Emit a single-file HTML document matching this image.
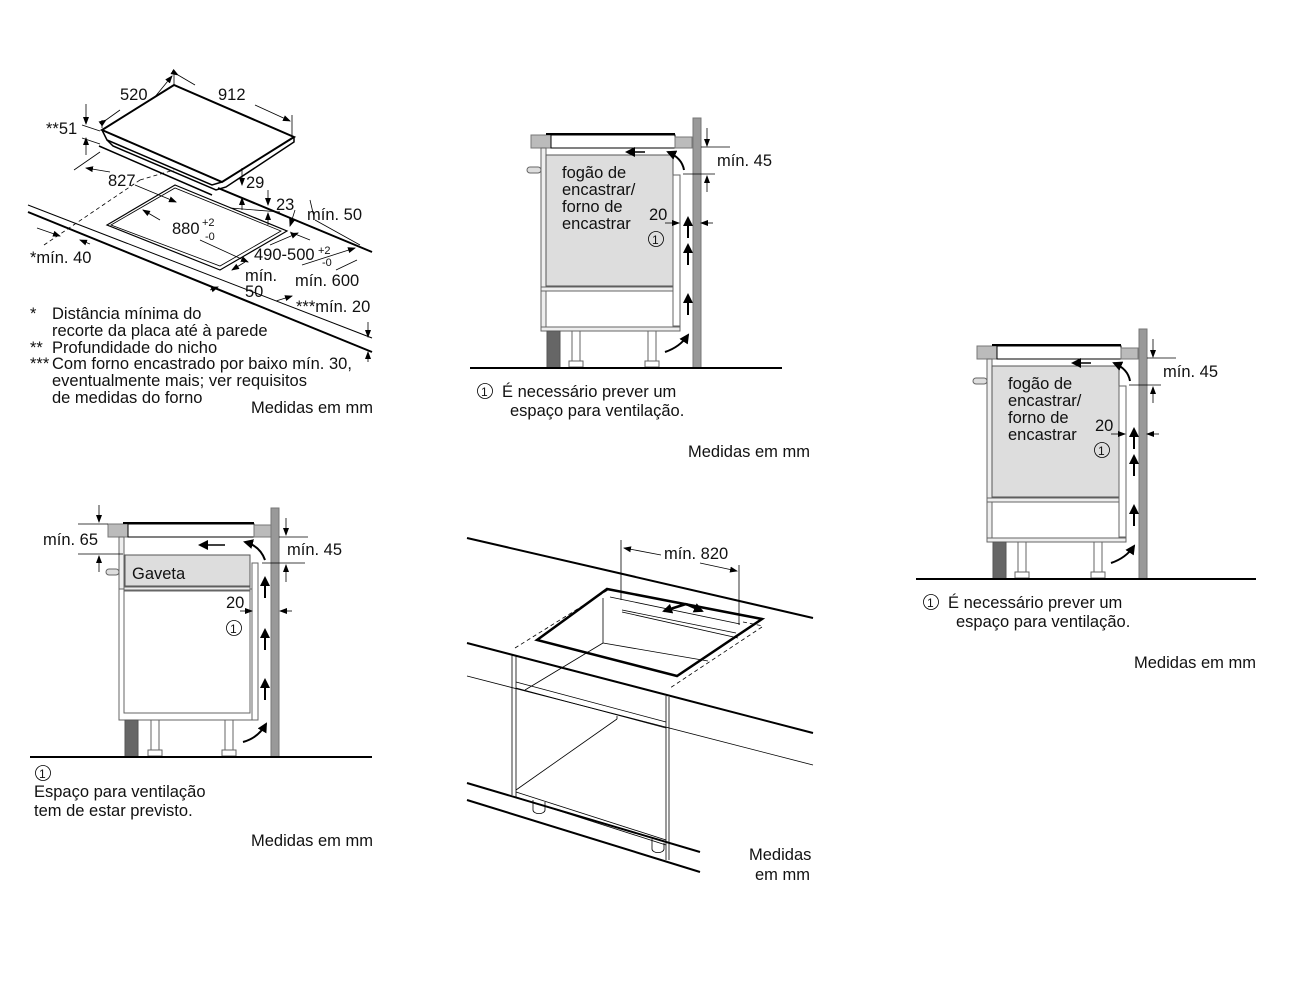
<!DOCTYPE html>
<html><head><meta charset="utf-8"><style>
html,body{margin:0;padding:0;background:#fff}
svg{display:block}
text{font-family:"Liberation Sans",sans-serif;font-size:16.5px;fill:#111}
</style></head><body>
<svg width="1300" height="1000" viewBox="0 0 1300 1000" xmlns="http://www.w3.org/2000/svg">
<defs>
<marker id="a" markerWidth="8" markerHeight="8" refX="7" refY="4" orient="auto" markerUnits="userSpaceOnUse"><path d="M0,1 L8,4 L0,7 z" fill="#000"/></marker>
<marker id="b" markerWidth="10" markerHeight="10" refX="8" refY="5" orient="auto" markerUnits="userSpaceOnUse"><path d="M0,0 L10,5 L0,10 z" fill="#000"/></marker>
</defs>

<!-- ================= TOP LEFT : hob ================= -->
<g stroke="#000" fill="none">
<polygon points="102,130 174,85 294,137 222,182" stroke-width="2" fill="#fff"/>
<polyline points="102,130 107,140 212,185 222,182" stroke-width="1.5"/>
<polyline points="107,140 113,146 216,190 226,187 294,142 294,137" stroke-width="1.5"/>
<line x1="99" y1="146" x2="212" y2="195" stroke-width="1.5"/>
<line x1="28" y1="205" x2="372" y2="338" stroke-width="1"/>
<line x1="28" y1="212" x2="372" y2="352" stroke-width="2"/>
<line x1="218" y1="188" x2="372" y2="252" stroke-width="2"/>
<polygon points="107,225 175,185 287,231 220,270" stroke-width="1.2"/>
<polygon points="111,225 175,188 281,231 220,266" stroke-width="0.8"/>
<line x1="44" y1="245" x2="140" y2="180" stroke-dasharray="4,3" stroke-width="0.8"/>
<line x1="140" y1="180" x2="174" y2="170" stroke-dasharray="4,3" stroke-width="0.8"/>
<line x1="174" y1="70" x2="174" y2="86" stroke-width="0.8"/>
<line x1="102" y1="120" x2="102" y2="128" stroke-width="0.8"/>
<line x1="292" y1="115" x2="292" y2="136" stroke-width="0.8"/>
<line x1="106" y1="120" x2="120" y2="110" marker-start="url(#a)" stroke-width="0.8"/>
<line x1="154" y1="98" x2="172" y2="76" marker-end="url(#a)" stroke-width="0.8"/>
<line x1="178" y1="75" x2="195" y2="85" marker-start="url(#a)" stroke-width="0.8"/>
<line x1="255" y1="105" x2="290" y2="121" marker-end="url(#a)" stroke-width="0.8"/>
<line x1="86" y1="104" x2="86" y2="124" marker-end="url(#a)" stroke-width="0.8"/>
<line x1="86" y1="155" x2="86" y2="138" marker-end="url(#a)" stroke-width="0.8"/>
<line x1="82" y1="125" x2="100" y2="131" stroke-width="0.8"/>
<line x1="82" y1="138" x2="100" y2="144" stroke-width="0.8"/>
<line x1="74" y1="170" x2="100" y2="152" stroke-width="0.8"/>
<line x1="110" y1="172" x2="86" y2="168" marker-end="url(#a)" stroke-width="0.8"/>
<line x1="135" y1="185" x2="176" y2="202" marker-end="url(#a)" stroke-width="0.8"/>
<line x1="242" y1="168" x2="242" y2="185" marker-end="url(#a)" stroke-width="0.8"/>
<line x1="242" y1="210" x2="242" y2="198" marker-end="url(#a)" stroke-width="0.8"/>
<line x1="268" y1="190" x2="268" y2="205" marker-end="url(#a)" stroke-width="0.8"/>
<line x1="268" y1="225" x2="268" y2="213" marker-end="url(#a)" stroke-width="0.8"/>
<line x1="230" y1="208" x2="280" y2="212" stroke-width="0.8"/>
<line x1="160" y1="220" x2="143" y2="210" marker-end="url(#a)" stroke-width="0.8"/>
<line x1="200" y1="240" x2="248" y2="262" marker-end="url(#a)" stroke-width="0.8"/>
<line x1="270" y1="245" x2="298" y2="233" marker-end="url(#a)" stroke-width="0.8"/>
<line x1="245" y1="262" x2="232" y2="270" marker-end="url(#a)" stroke-width="0.8"/>
<line x1="295" y1="210" x2="290" y2="226" marker-end="url(#a)" stroke-width="0.8"/>
<line x1="310" y1="200" x2="314" y2="217" stroke-width="0.8"/>
<line x1="290" y1="232" x2="310" y2="240" stroke-width="0.8"/>
<line x1="302" y1="265" x2="355" y2="248" marker-end="url(#a)" stroke-width="0.8"/>
<line x1="315" y1="220" x2="360" y2="245" stroke-width="0.8"/>
<line x1="336" y1="270" x2="357" y2="260" stroke-width="0.8"/>
<line x1="210" y1="290" x2="218" y2="287" marker-end="url(#a)" stroke-width="0.8"/>
<line x1="276" y1="301" x2="292" y2="296" marker-end="url(#a)" stroke-width="0.8"/>
<line x1="37" y1="228" x2="60" y2="236" marker-end="url(#a)" stroke-width="0.8"/>
<line x1="90" y1="244" x2="80" y2="240" marker-end="url(#a)" stroke-width="0.8"/>
<line x1="368" y1="322" x2="368" y2="337" marker-end="url(#a)" stroke-width="0.8"/>
<line x1="368" y1="362" x2="368" y2="352" marker-end="url(#a)" stroke-width="0.8"/>
</g>
<text x="120" y="100">520</text>
<text x="218" y="100">912</text>
<text x="46" y="134">**51</text>
<text x="108" y="186">827</text>
<text x="246" y="188">29</text>
<text x="276" y="210">23</text>
<text x="307" y="220">mín. 50</text>
<text x="172" y="234">880</text><text x="202" y="226" style="font-size:11px">+2</text><text x="205" y="240" style="font-size:11px">-0</text>
<text x="254" y="260">490-500</text><text x="318" y="254" style="font-size:11px">+2</text><text x="322" y="266" style="font-size:11px">-0</text>
<text x="30" y="263">*mín. 40</text>
<text x="245" y="281">mín.</text>
<text x="245" y="297">50</text>
<text x="295" y="286">mín. 600</text>
<text x="296" y="312">***mín. 20</text>
<text x="30" y="319">*</text><text x="52" y="319">Distância mínima do</text>
<text x="52" y="336">recorte da placa até à parede</text>
<text x="30" y="353">**</text><text x="52" y="353">Profundidade do nicho</text>
<text x="30" y="369">***</text><text x="52" y="369">Com forno encastrado por baixo mín. 30,</text>
<text x="52" y="386">eventualmente mais; ver requisitos</text>
<text x="52" y="403">de medidas do forno</text>
<text x="251" y="413">Medidas em mm</text>

<!-- ================= TOP MIDDLE cabinet ================= -->
<g>
<g stroke="#000" stroke-width="1">
<rect x="531" y="135" width="20" height="13" fill="#bbb" stroke="#777"/>
<rect x="551" y="135" width="124" height="13" fill="#fff"/>
<line x1="546" y1="134" x2="675" y2="134" stroke-width="2"/>
<rect x="675" y="137" width="17" height="11" fill="#bbb" stroke="#777"/>
<rect x="541" y="148" width="5" height="180" fill="#eee" stroke="#666"/>
<rect x="527" y="167" width="14" height="6" rx="3" fill="#ddd" stroke="#666"/>
<rect x="546" y="155" width="127" height="131" fill="#ddd" stroke="#555"/>
<rect x="673" y="175" width="7" height="151" fill="#fff" stroke="#666"/>
<rect x="546" y="291" width="127" height="36" fill="#fff" stroke="#666"/>
<rect x="541" y="287" width="132" height="4" fill="#eee" stroke="#666"/>
<rect x="541" y="327" width="139" height="4" fill="#eee" stroke="#666"/>
<rect x="547" y="331" width="13" height="37" fill="#666" stroke="#555"/>
<rect x="572" y="331" width="8" height="30" fill="#fff" stroke="#666"/>
<rect x="569" y="361" width="14" height="6" fill="#fff" stroke="#666"/>
<rect x="648" y="331" width="8" height="30" fill="#fff" stroke="#666"/>
<rect x="645" y="361" width="14" height="6" fill="#fff" stroke="#666"/>
<rect x="693" y="118" width="8" height="250" fill="#999" stroke="#777"/>
<line x1="470" y1="368" x2="782" y2="368" stroke-width="2"/>
</g>
<g stroke="#000" fill="none" stroke-width="2">
<line x1="688" y1="238" x2="688" y2="218" marker-end="url(#b)"/>
<line x1="688" y1="265" x2="688" y2="245" marker-end="url(#b)"/>
<line x1="688" y1="315" x2="688" y2="295" marker-end="url(#b)"/>
<line x1="645" y1="152" x2="627" y2="152" marker-end="url(#b)" stroke-width="1.5"/>
<path d="M684,170 Q682,158 668,152" marker-end="url(#b)"/>
<path d="M665,352 Q680,347 688,335" marker-end="url(#b)"/>
</g>
<g stroke="#000" stroke-width="0.8" fill="none">
<line x1="701" y1="147" x2="730" y2="147"/>
<line x1="683" y1="174" x2="715" y2="174"/>
<line x1="707" y1="128" x2="707" y2="146" marker-end="url(#a)"/>
<line x1="707" y1="192" x2="707" y2="176" marker-end="url(#a)"/>
<line x1="665" y1="223" x2="679" y2="223" marker-end="url(#a)"/>
<line x1="713" y1="223" x2="701" y2="223" marker-end="url(#a)"/>
<circle cx="656" cy="239" r="7.5"/>
</g>
<text x="717" y="166">mín. 45</text>
<text x="649" y="220">20</text>
<text x="652" y="244" style="font-size:12px">1</text>
<text x="562" y="178">fogão de</text>
<text x="562" y="195">encastrar/</text>
<text x="562" y="212">forno de</text>
<text x="562" y="229">encastrar</text>
</g>
<g stroke="#000" stroke-width="0.8" fill="none"><circle cx="485" cy="391" r="7.5"/></g>
<text x="481" y="396" style="font-size:12px">1</text>
<text x="502" y="397">É necessário prever um</text>
<text x="510" y="416">espaço para ventilação.</text>
<text x="688" y="457">Medidas em mm</text>

<!-- ================= RIGHT cabinet (copy) ================= -->
<g transform="translate(446,211)">
<g stroke="#000" stroke-width="1">
<rect x="531" y="135" width="20" height="13" fill="#bbb" stroke="#777"/>
<rect x="551" y="135" width="124" height="13" fill="#fff"/>
<line x1="546" y1="134" x2="675" y2="134" stroke-width="2"/>
<rect x="675" y="137" width="17" height="11" fill="#bbb" stroke="#777"/>
<rect x="541" y="148" width="5" height="180" fill="#eee" stroke="#666"/>
<rect x="527" y="167" width="14" height="6" rx="3" fill="#ddd" stroke="#666"/>
<rect x="546" y="155" width="127" height="131" fill="#ddd" stroke="#555"/>
<rect x="673" y="175" width="7" height="151" fill="#fff" stroke="#666"/>
<rect x="546" y="291" width="127" height="36" fill="#fff" stroke="#666"/>
<rect x="541" y="287" width="132" height="4" fill="#eee" stroke="#666"/>
<rect x="541" y="327" width="139" height="4" fill="#eee" stroke="#666"/>
<rect x="547" y="331" width="13" height="37" fill="#666" stroke="#555"/>
<rect x="572" y="331" width="8" height="30" fill="#fff" stroke="#666"/>
<rect x="569" y="361" width="14" height="6" fill="#fff" stroke="#666"/>
<rect x="648" y="331" width="8" height="30" fill="#fff" stroke="#666"/>
<rect x="645" y="361" width="14" height="6" fill="#fff" stroke="#666"/>
<rect x="693" y="118" width="8" height="250" fill="#999" stroke="#777"/>
<line x1="470" y1="368" x2="810" y2="368" stroke-width="2"/>
</g>
<g stroke="#000" fill="none" stroke-width="2">
<line x1="688" y1="238" x2="688" y2="218" marker-end="url(#b)"/>
<line x1="688" y1="265" x2="688" y2="245" marker-end="url(#b)"/>
<line x1="688" y1="315" x2="688" y2="295" marker-end="url(#b)"/>
<line x1="645" y1="152" x2="627" y2="152" marker-end="url(#b)" stroke-width="1.5"/>
<path d="M684,170 Q682,158 668,152" marker-end="url(#b)"/>
<path d="M665,352 Q680,347 688,335" marker-end="url(#b)"/>
</g>
<g stroke="#000" stroke-width="0.8" fill="none">
<line x1="701" y1="147" x2="730" y2="147"/>
<line x1="683" y1="174" x2="715" y2="174"/>
<line x1="707" y1="128" x2="707" y2="146" marker-end="url(#a)"/>
<line x1="707" y1="192" x2="707" y2="176" marker-end="url(#a)"/>
<line x1="665" y1="223" x2="679" y2="223" marker-end="url(#a)"/>
<line x1="713" y1="223" x2="701" y2="223" marker-end="url(#a)"/>
<circle cx="656" cy="239" r="7.5"/>
<circle cx="485" cy="391" r="7.5"/>
</g>
<text x="717" y="166">mín. 45</text>
<text x="649" y="220">20</text>
<text x="652" y="244" style="font-size:12px">1</text>
<text x="562" y="178">fogão de</text>
<text x="562" y="195">encastrar/</text>
<text x="562" y="212">forno de</text>
<text x="562" y="229">encastrar</text>
<text x="481" y="396" style="font-size:12px">1</text>
<text x="502" y="397">É necessário prever um</text>
<text x="510" y="416">espaço para ventilação.</text>
<text x="688" y="457">Medidas em mm</text>
</g>

<!-- ================= BOTTOM LEFT ================= -->
<g stroke="#000" stroke-width="1">
<rect x="108" y="524" width="20" height="13" fill="#bbb" stroke="#777"/>
<rect x="128" y="524" width="126" height="13" fill="#fff"/>
<line x1="123" y1="523" x2="254" y2="523" stroke-width="2"/>
<rect x="254" y="525" width="17" height="12" fill="#bbb" stroke="#777"/>
<rect x="119" y="537" width="5" height="52" fill="#eee" stroke="#666"/>
<rect x="106" y="569" width="13" height="6" rx="3" fill="#ddd" stroke="#666"/>
<rect x="125" y="555" width="125" height="31" fill="#ddd" stroke="#555"/>
<rect x="119" y="589" width="134" height="131" fill="#fff" stroke="#666"/>
<rect x="124" y="591" width="126" height="122" fill="#fff" stroke="#666"/>
<rect x="124" y="587" width="126" height="3" fill="#eee" stroke="#666"/>
<rect x="252" y="563" width="6" height="157" fill="#fff" stroke="#666"/>
<rect x="125" y="720" width="13" height="37" fill="#666" stroke="#555"/>
<rect x="151" y="720" width="8" height="30" fill="#fff" stroke="#666"/>
<rect x="148" y="750" width="14" height="6" fill="#fff" stroke="#666"/>
<rect x="225" y="720" width="8" height="30" fill="#fff" stroke="#666"/>
<rect x="222" y="750" width="14" height="6" fill="#fff" stroke="#666"/>
<rect x="271" y="508" width="8" height="249" fill="#999" stroke="#777"/>
<line x1="30" y1="757" x2="372" y2="757" stroke-width="2"/>
</g>
<g stroke="#000" fill="none" stroke-width="2">
<line x1="265" y1="598" x2="265" y2="578" marker-end="url(#b)"/>
<line x1="265" y1="650" x2="265" y2="630" marker-end="url(#b)"/>
<line x1="265" y1="700" x2="265" y2="680" marker-end="url(#b)"/>
<line x1="225" y1="545" x2="200" y2="545" marker-end="url(#b)" stroke-width="1.5"/>
<path d="M265,560 Q260,546 245,542" marker-end="url(#b)"/>
<path d="M243,742 Q258,738 266,724" marker-end="url(#b)"/>
</g>
<g stroke="#000" stroke-width="0.8" fill="none">
<line x1="78" y1="524" x2="108" y2="524"/>
<line x1="78" y1="554" x2="123" y2="554"/>
<line x1="99" y1="505" x2="99" y2="522" marker-end="url(#a)"/>
<line x1="99" y1="572" x2="99" y2="556" marker-end="url(#a)"/>
<line x1="279" y1="537" x2="308" y2="537"/>
<line x1="262" y1="563" x2="305" y2="563"/>
<line x1="286" y1="518" x2="286" y2="535" marker-end="url(#a)"/>
<line x1="286" y1="582" x2="286" y2="565" marker-end="url(#a)"/>
<line x1="240" y1="611" x2="252" y2="611" marker-end="url(#a)"/>
<line x1="292" y1="611" x2="280" y2="611" marker-end="url(#a)"/>
<circle cx="234" cy="628" r="7.5"/>
<circle cx="43" cy="773" r="7.5"/>
</g>
<text x="43" y="545">mín. 65</text>
<text x="287" y="555">mín. 45</text>
<text x="132" y="579">Gaveta</text>
<text x="226" y="608">20</text>
<text x="230" y="633" style="font-size:12px">1</text>
<text x="39" y="778" style="font-size:12px">1</text>
<text x="34" y="797">Espaço para ventilação</text>
<text x="34" y="816">tem de estar previsto.</text>
<text x="251" y="846">Medidas em mm</text>

<!-- ================= BOTTOM MIDDLE perspective ================= -->
<g stroke="#000" fill="none">
<line x1="467" y1="538" x2="813" y2="618" stroke-width="2"/>
<line x1="467" y1="643" x2="813" y2="733" stroke-width="2"/>
<line x1="467" y1="676" x2="813" y2="765" stroke-width="0.8"/>
<line x1="467" y1="783" x2="700" y2="852" stroke-width="2"/>
<line x1="467" y1="800" x2="700" y2="872" stroke-width="2"/>
<polygon points="537,640 607,589 762,619 677,676" stroke-width="2.5"/>
<polyline points="515,648 608,590" stroke-dasharray="4,3" stroke-width="0.8"/>
<polyline points="762,627 670,688" stroke-dasharray="4,3" stroke-width="0.8"/>
<polyline points="743,622 763,626" stroke-dasharray="4,3" stroke-width="0.8"/>
<g stroke-width="0.8">
<line x1="603" y1="598" x2="603" y2="643"/>
<line x1="603" y1="643" x2="708" y2="661"/>
<line x1="610" y1="597" x2="740" y2="624"/>
<line x1="622" y1="610" x2="736" y2="633"/>
<line x1="622" y1="612" x2="738" y2="638"/>
<line x1="512" y1="655" x2="512" y2="795"/>
<line x1="516" y1="656" x2="516" y2="797"/>
<line x1="666" y1="696" x2="666" y2="860"/>
<line x1="669" y1="697" x2="669" y2="860"/>
<line x1="516" y1="682" x2="666" y2="722"/>
<line x1="516" y1="688" x2="666" y2="728"/>
<line x1="525" y1="690" x2="603" y2="643"/>
<line x1="516" y1="790" x2="617" y2="719"/>
<line x1="617" y1="719" x2="617" y2="716"/>
<line x1="516" y1="792" x2="666" y2="840"/>
<line x1="516" y1="797" x2="666" y2="845"/>
<path d="M533,800 v10 a5,3 0 0 0 12,0 v-8"/>
<path d="M652,839 v10 a5,3 0 0 0 12,0 v-6"/>
<line x1="621" y1="540" x2="621" y2="600"/>
<line x1="739" y1="565" x2="739" y2="625"/>
<line x1="661" y1="555" x2="624" y2="548" marker-end="url(#a)"/>
<line x1="700" y1="563" x2="737" y2="571" marker-end="url(#a)"/>
</g>
<line x1="686" y1="604" x2="664" y2="611" stroke-width="2.5" marker-end="url(#b)"/>
<line x1="686" y1="604" x2="702" y2="611" stroke-width="2.5" marker-end="url(#b)"/>
</g>
<text x="664" y="559">mín. 820</text>
<text x="749" y="860">Medidas</text>
<text x="755" y="880">em mm</text>
</svg>
</body></html>
